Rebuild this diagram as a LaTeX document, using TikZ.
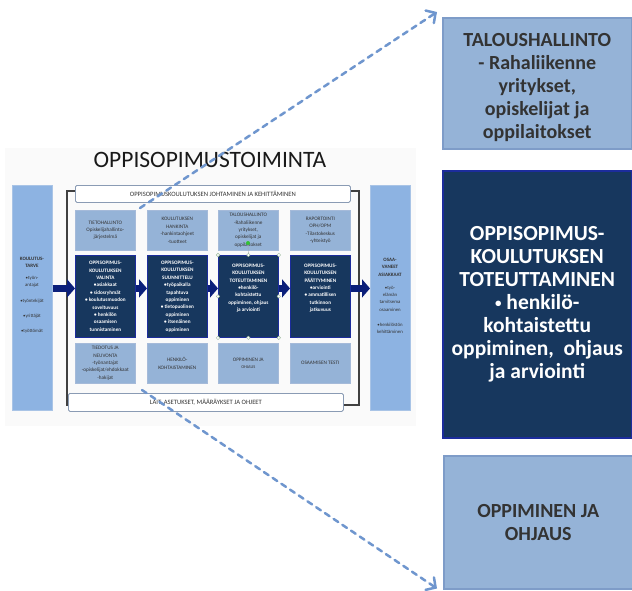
\documentclass[tikz,border=0pt]{standalone}
\usepackage{fontspec}
\setmainfont{Carlito}
\usetikzlibrary{arrows.meta}
\definecolor{lblue}{HTML}{95B3D7}
\definecolor{lbord}{HTML}{7E9CC8}
\definecolor{colblue}{HTML}{8DB3E2}
\definecolor{colbord}{HTML}{A9C4E6}
\definecolor{dnavy}{HTML}{17375E}
\definecolor{nbord}{HTML}{1C2C9C}
\definecolor{blockblue}{HTML}{0B1F7A}
\definecolor{dashblue}{HTML}{6F96CE}
\definecolor{txtgray}{HTML}{333333}
\definecolor{framegray}{HTML}{404040}
\definecolor{banbord}{HTML}{8A9BB4}
\newcommand{\smb}{\raisebox{2.2pt}{\fontsize{13}{13}\selectfont\textbullet}}
\tikzset{
  mlight/.style={draw=lbord!70, fill=lblue, line width=0.6pt, anchor=north west,
    minimum width=60pt, minimum height=40pt, inner sep=0pt, align=center,
    text=txtgray, font=\fontsize{5.2}{7.4}\selectfont},
  mdark/.style={draw=nbord, fill=dnavy, line width=0.8pt, anchor=north west,
    minimum width=60pt, minimum height=82pt, inner sep=0pt, align=center,
    text=white, font=\bfseries\fontsize{5.2}{7.4}\selectfont},
  mcol/.style={draw=colbord, fill=colblue, line width=0.6pt, anchor=north west,
    minimum width=40pt, minimum height=225pt, inner sep=0pt},
  mtext/.style={align=center, inner sep=0pt, text=txtgray, font=\bfseries\fontsize{5}{7.3}\selectfont},
  banner/.style={draw=banbord, fill=white, line width=0.8pt, rounded corners=1.5pt,
    anchor=north west, inner sep=0pt, font=\fontsize{6.6}{7}\selectfont, text=black!80},
  blockarr/.style={draw=blockblue, line width=6.5pt, -{Triangle[length=8pt,width=18pt]}},
  dasharr/.style={draw=dashblue, line width=2.5pt, dash pattern=on 5.5pt off 5pt,
    line cap=round, -{Straight Barb[length=7pt,width=15pt,line cap=round]}},
  bigbox/.style={anchor=north west, minimum width=189pt, inner sep=0pt, line width=1.5pt},
  bigtext/.style={align=center, inner sep=0pt, font=\bfseries\fontsize{20}{23}\selectfont},
  handle/.style={circle, draw=green!30!black!40, fill=white, line width=0.4pt, minimum size=3.5pt, inner sep=0pt},
}
\begin{document}
\begin{tikzpicture}[x=1pt,y=-1pt]
\useasboundingbox (0,0) rectangle (632,590);
% faint panel behind the small diagram
\fill[black!2] (5,148) rectangle (416,426);
% title
\node[font=\fontsize{23.5}{26}\selectfont, text=black!90, inner sep=0pt] (title) at (210,160) {OPPISOPIMUSTOIMINTA};
% frame
\draw[framegray, line width=1.3pt] (67,191) rectangle (359,405);
% columns
\node[mcol] (lc) at (12,185) {};
\node[mcol] (rc) at (370,185) {};
\node[mtext, anchor=north] (lct) at (32,257) {KOULUTUS-\\TARVE};
\node[mtext, anchor=north, font=\fontsize{4.8}{7}\selectfont] (lcb) at (32,276) {\textbullet työn-\\antajat\\[9pt]\textbullet työntekijät\\[8pt]\textbullet yrittäjät\\[8pt]\textbullet työttömät};
\node[mtext, anchor=north] (rct) at (390,258) {OSAA-\\VANEET\\ASIAKKAAT};
\node[mtext, anchor=north, font=\fontsize{4.8}{7.3}\selectfont] (rcb) at (390,286) {\textbullet työ-\\elämän\\tarvitsema\\osaaminen\\[8pt]\textbullet henkilöstön\\kehittäminen};
% banners
\node[banner, minimum width=275pt, minimum height=17pt] (topban) at (75,185) {OPPISOPIMUSKOULUTUKSEN JOHTAMINEN JA KEHITTÄMINEN};
\node[banner, minimum width=275pt, minimum height=18pt] (botban) at (68,393) {LAIT, ASETUKSET, MÄÄRÄYKSET JA OHJEET};
% top row
\node[mlight] (t1) at (75,210) {TIETOHALLINTO\\Opiskelijahallinto-\\järjestelmä};
\node[mlight] (t2) at (147,210) {KOULUTUKSEN\\HANKINTA\\-hankintaohjeet\\-tuotteet};
\node[mlight] (t3) at (218,210) {TALOUSHALLINTO\\-Rahaliikenne\\yritykset,\\opiskelijat ja\\oppilaitokset};
\node[mlight] (t4) at (290,210) {RAPORTOINTI\\OPH/OPM\\-Tilastokeskus\\-yhteistyö};
% dark row
\node[mdark] (d1) at (75,255) {OPPISOPIMUS-\\KOULUTUKSEN\\VALINTA\\\textbullet asiakkaat\\\textbullet\ sidosryhmät\\\textbullet\ koulutusmuodon\\soveltuvuus\\\textbullet\ henkilön\\osaamisen\\tunnistaminen};
\node[mdark] (d2) at (147,255) {OPPISOPIMUS-\\KOULUTUKSEN\\SUUNNITTELU\\\textbullet työpaikalla\\tapahtuva\\oppiminen\\\textbullet\ tietopuolinen\\oppiminen\\\textbullet\ itsenäinen\\oppiminen};
\node[mdark] (d3) at (218,255) {OPPISOPIMUS-\\KOULUTUKSEN\\TOTEUTTAMINEN\\\textbullet henkilö-\\kohtaistettu\\oppiminen, ohjaus\\ja arviointi\\[10pt]};
\node[mdark] (d4) at (290,255) {OPPISOPIMUS-\\KOULUTUKSEN\\PÄÄTTYMINEN\\\textbullet arviointi\\\textbullet\ ammatillisen\\tutkinnon\\jatkuvuus\\[10pt]};
% bottom row
\node[mlight] (b1) at (75,343) {TIEDOTUS JA\\NEUVONTA\\-työnantajat\\-opiskelijat/ehdokkaat\\-hakijat};
\node[mlight] (b2) at (147,343) {HENKILÖ-\\KOHTAISTAMINEN};
\node[mlight] (b3) at (218,343) {OPPIMINEN JA\\{\fontsize{4.3}{6}\selectfont OHJAUS}};
\node[mlight] (b4) at (290,343) {OSAAMISEN TESTI};
% selection handles on d3
\node[circle, fill=green!70!black!80, minimum size=4pt, inner sep=0pt] (rot) at (248,243) {};
\draw[black!35, line width=0.4pt] (rot) -- (d3.north);
\foreach \a in {north west,north,north east,west,east,south west,south,south east}
  \node[handle] at (d3.\a) {};
% block arrows
\coordinate (ay) at ([yshift=8pt]d1.west);
\draw[blockarr] (lc.east |- ay) -- (ay);
\draw[blockarr] ([yshift=8pt]d1.east) -- ([yshift=8pt]d2.west);
\draw[blockarr] ([yshift=8pt]d2.east) -- ([yshift=8pt]d3.west);
\draw[blockarr] ([yshift=8pt]d3.east) -- ([yshift=8pt]d4.west);
\coordinate (az) at ([yshift=8pt]d4.east);
\draw[blockarr] (az) -- (rc.west |- az);
% big right boxes
\node[bigbox, draw=lbord, fill=lblue, minimum height=131pt] (tal) at (442,17) {};
\node[bigtext, text=txtgray] (talt) at ([yshift=-4pt]tal.center) {TALOUSHALLINTO\\- Rahaliikenne\\yritykset,\\opiskelijat ja\\oppilaitokset};
\node[bigbox, draw=nbord, fill=dnavy, minimum height=267pt] (tot) at (442,170) {};
\node[bigtext, text=white, font=\bfseries\fontsize{21.5}{23}\selectfont] (tott) at (tot.center) {OPPISOPIMUS-\\KOULUTUKSEN\\TOTEUTTAMINEN\\\smb\ henkilö-\\kohtaistettu\\oppiminen,\ \ ohjaus\\ja arviointi};
\node[bigbox, draw=lbord, fill=lblue, minimum height=133pt] (opp) at (443,455) {};
\node[bigtext, text=txtgray] (oppt) at (opp.center) {OPPIMINEN JA\\OHJAUS};
% dashed arrows
\coordinate (ts) at (140,208);
\coordinate (bs) at (142,390);
\draw[dasharr] (ts) -- ([shift={(-5,-5)}]tal.north west);
\draw[dasharr] (bs) -- ([shift={(-6,-1)}]opp.south west);
\end{tikzpicture}
\end{document}
